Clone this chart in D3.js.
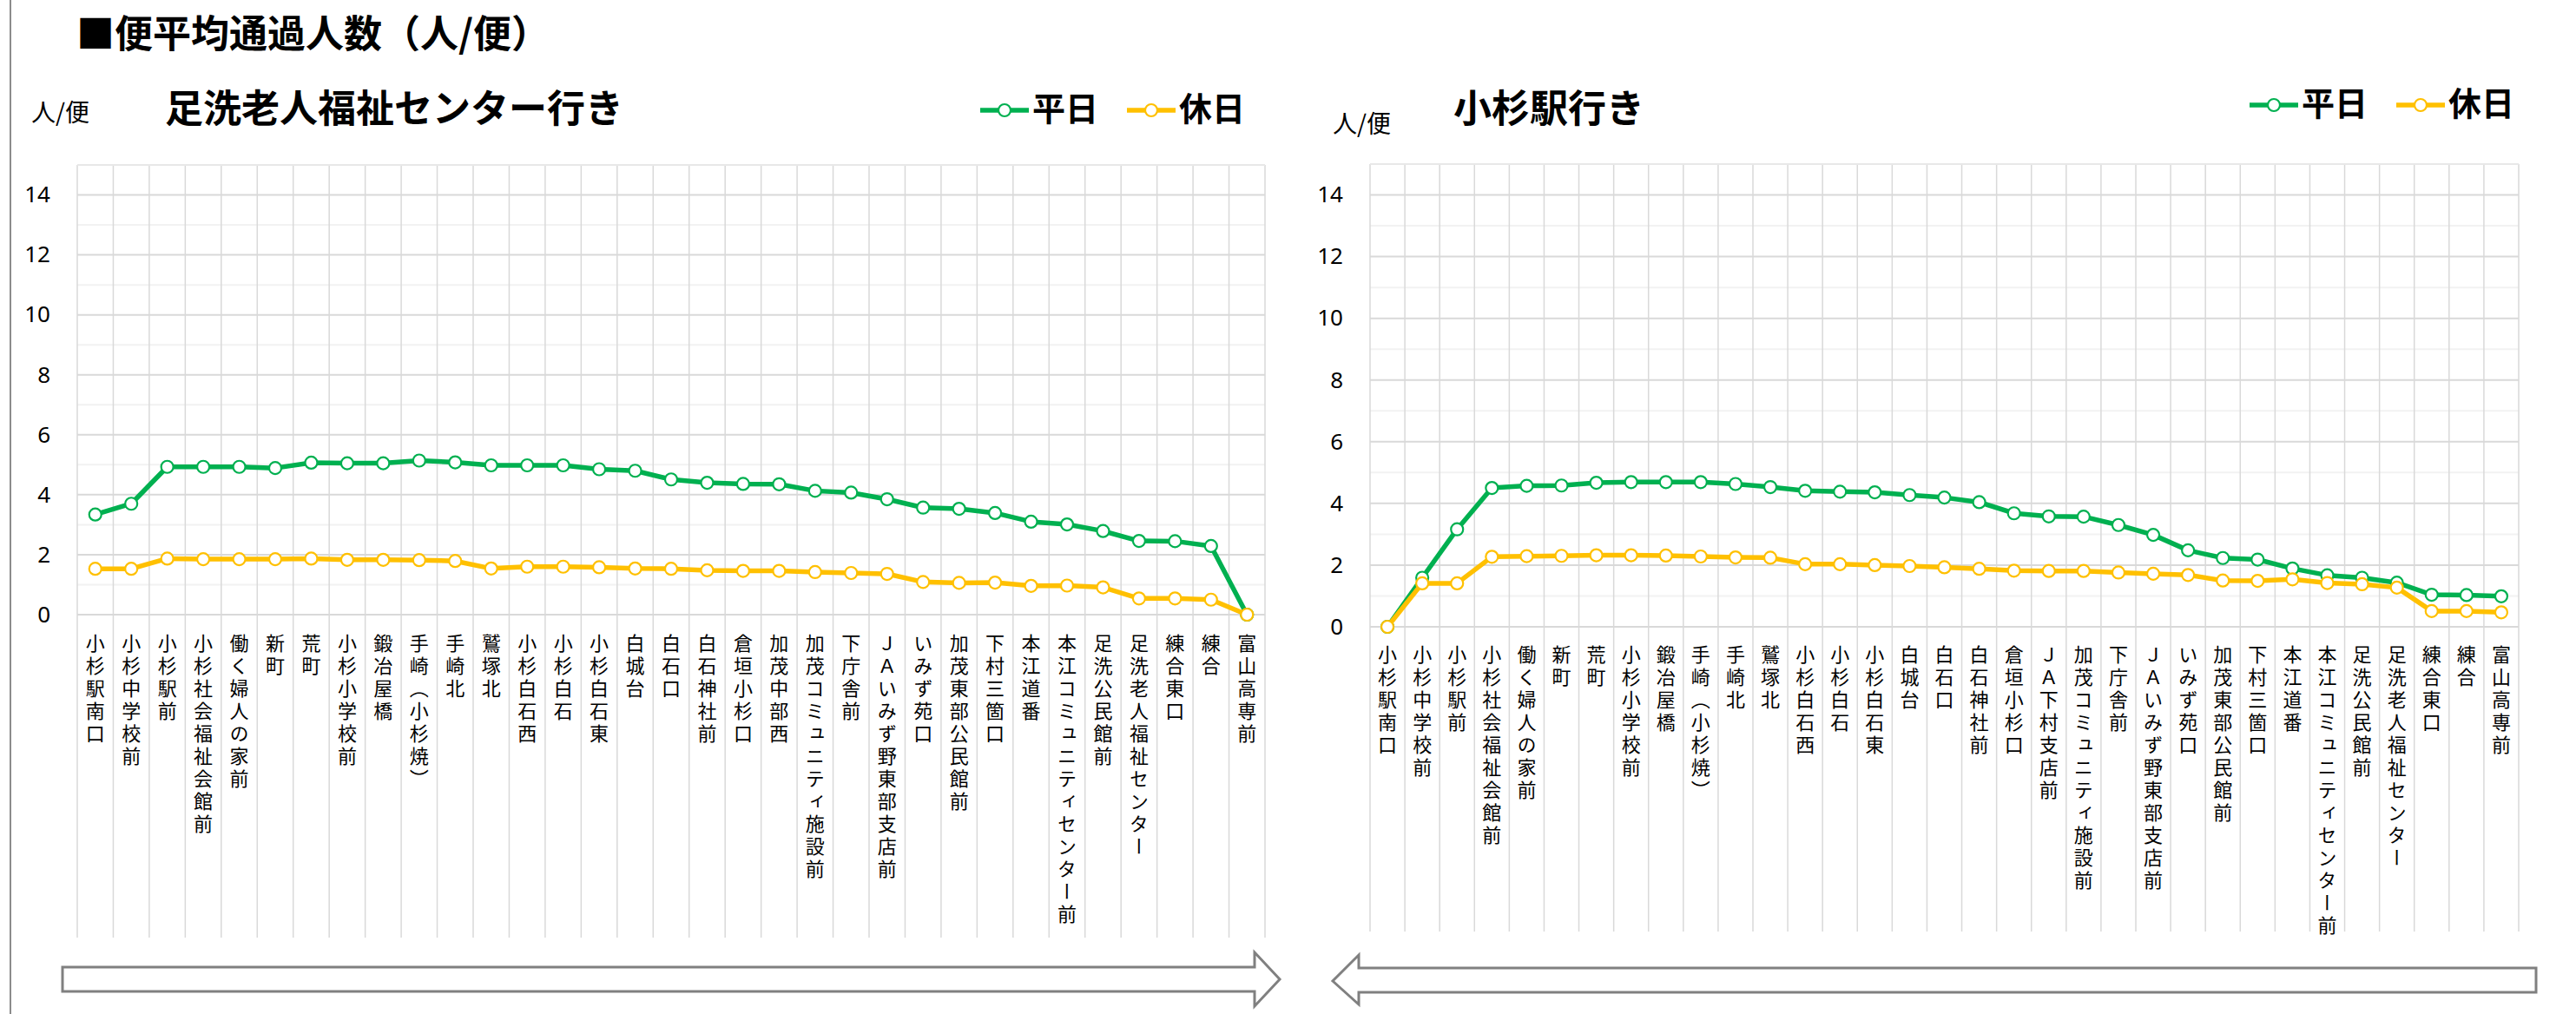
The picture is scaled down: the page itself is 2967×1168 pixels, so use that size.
<!DOCTYPE html>
<html>
<head>
<meta charset="utf-8">
<script src="https://cdn.jsdelivr.net/npm/d3@7"></script>
<style>
  body { margin: 0; background: #fff; }
  svg text { font-family: "Noto Sans CJK JP", "Noto Sans", sans-serif; fill: #000; }
</style>
</head>
<body>
<div id="chart"></div>
<script>
// 便平均通過人数(人/便)
const stopsToCenter = ["小杉駅南口", "小杉中学校前", "小杉駅前", "小杉社会福祉会館前", "働く婦人の家前", "新町", "荒町", "小杉小学校前", "鍛冶屋橋", "手崎（小杉焼）", "手崎北", "鷲塚北", "小杉白石西", "小杉白石", "小杉白石東", "白城台", "白石口", "白石神社前", "倉垣小杉口", "加茂中部西", "加茂コミュニティ施設前", "下庁舎前", "ＪＡいみず野東部支店前", "いみず苑口", "加茂東部公民館前", "下村三箇口", "本江道番", "本江コミュニティセンター前", "足洗公民館前", "足洗老人福祉センター", "練合東口", "練合", "富山高専前"];
const weekdayToCenter = [3.34, 3.70, 4.93, 4.93, 4.93, 4.89, 5.07, 5.05, 5.05, 5.14, 5.08, 4.98, 4.98, 4.98, 4.85, 4.80, 4.51, 4.40, 4.36, 4.35, 4.13, 4.07, 3.85, 3.57, 3.53, 3.39, 3.10, 3.01, 2.79, 2.46, 2.45, 2.29, 0];
const holidayToCenter = [1.53, 1.53, 1.87, 1.85, 1.85, 1.85, 1.87, 1.83, 1.83, 1.82, 1.79, 1.54, 1.60, 1.60, 1.58, 1.54, 1.53, 1.48, 1.46, 1.46, 1.42, 1.39, 1.36, 1.09, 1.06, 1.07, 0.96, 0.97, 0.91, 0.54, 0.54, 0.50, 0];

const stopsToStation = ["小杉駅南口", "小杉中学校前", "小杉駅前", "小杉社会福祉会館前", "働く婦人の家前", "新町", "荒町", "小杉小学校前", "鍛冶屋橋", "手崎（小杉焼）", "手崎北", "鷲塚北", "小杉白石西", "小杉白石", "小杉白石東", "白城台", "白石口", "白石神社前", "倉垣小杉口", "ＪＡ下村支店前", "加茂コミュニティ施設前", "下庁舎前", "ＪＡいみず野東部支店前", "いみず苑口", "加茂東部公民館前", "下村三箇口", "本江道番", "本江コミュニティセンター前", "足洗公民館前", "足洗老人福祉センター", "練合東口", "練合", "富山高専前"];
const weekdayToStation = [0, 1.59, 3.16, 4.50, 4.57, 4.58, 4.67, 4.69, 4.69, 4.69, 4.63, 4.53, 4.41, 4.38, 4.36, 4.27, 4.19, 4.04, 3.68, 3.58, 3.57, 3.30, 2.98, 2.48, 2.23, 2.18, 1.89, 1.67, 1.59, 1.43, 1.04, 1.03, 0.99];
const holidayToStation = [0, 1.41, 1.41, 2.27, 2.29, 2.30, 2.32, 2.32, 2.31, 2.28, 2.25, 2.24, 2.03, 2.03, 2.00, 1.97, 1.93, 1.88, 1.82, 1.81, 1.81, 1.76, 1.72, 1.68, 1.50, 1.49, 1.54, 1.42, 1.38, 1.27, 0.51, 0.51, 0.47];

const yTicks = [0, 2, 4, 6, 8, 10, 12, 14];
const seriesNames = ["平日", "休日"];
const seriesColors = ["#00b050", "#ffc000"];

const svg = d3.select("#chart").append("svg")
    .attr("width", 2967)
    .attr("height", 1168);

// 左端の枠線
svg.append("line")
   .attr("x1", 12).attr("x2", 12)
   .attr("y1", 0).attr("y2", 1168)
   .attr("stroke", "#8c8c8c").attr("stroke-width", 2);

svg.append("text")
   .attr("x", 88).attr("y", 55)
   .style("font-size", "44px")
   .style("font-weight", "bold")
   .text("■便平均通過人数（人/便）");

function drawPanel(opt) {
    const g = svg.append("g");
    const x = d3.scaleBand().domain(opt.stops).range([opt.left, opt.right]);
    const y = d3.scaleLinear().domain([0, 15]).range([opt.bottom, opt.top]);
    const bw = x.bandwidth();

    // 補助目盛線
    g.selectAll(".minor").data(d3.range(1, 15, 2)).enter()
     .append("line")
     .attr("x1", opt.left).attr("x2", opt.right)
     .attr("y1", d => y(d)).attr("y2", d => y(d))
     .attr("stroke", "#f2f2f2").attr("stroke-width", 2);

    // 縦の区切り線
    g.selectAll(".vgrid").data(d3.range(opt.stops.length + 1)).enter()
     .append("line")
     .attr("x1", i => opt.left + i * bw).attr("x2", i => opt.left + i * bw)
     .attr("y1", opt.top).attr("y2", opt.gridBottom)
     .attr("stroke", "#d9d9d9").attr("stroke-width", 1.5);

    // 主目盛線
    g.selectAll(".major").data(yTicks.concat([15])).enter()
     .append("line")
     .attr("x1", opt.left).attr("x2", opt.right)
     .attr("y1", d => y(d)).attr("y2", d => y(d))
     .attr("stroke", d => d === 15 ? "#e8e8e8" : "#d9d9d9").attr("stroke-width", 2);

    // Y軸ラベル
    const yAxis = g.append("g")
        .attr("transform", `translate(${opt.left},0)`)
        .call(d3.axisLeft(y).tickValues(yTicks).tickSize(0).tickPadding(31));
    yAxis.select(".domain").remove();
    yAxis.selectAll("text")
         .style("font-family", "'Noto Sans', sans-serif")
         .style("font-size", "26px");

    // X軸ラベル (縦書き)
    g.selectAll(".xlab").data(opt.stops).enter()
     .append("text")
     .attr("x", d => x(d) + bw / 2)
     .attr("y", opt.labelTop)
     .style("writing-mode", "vertical-rl")
     .style("font-size", "22px")
     .style("letter-spacing", "4px")
     .text(d => d);

    // 折れ線
    const series = [opt.weekday, opt.holiday];
    series.forEach((vals, si) => {
        const pts = vals.map((v, i) => ({ name: opt.stops[i], v }));
        g.append("path")
         .datum(pts)
         .attr("fill", "none")
         .attr("stroke", seriesColors[si])
         .attr("stroke-width", 5.5)
         .attr("stroke-linejoin", "round")
         .attr("d", d3.line().x(d => x(d.name) + bw / 2).y(d => y(d.v)));
        g.selectAll(".pt" + si).data(pts).enter()
         .append("circle")
         .attr("cx", d => x(d.name) + bw / 2)
         .attr("cy", d => y(d.v))
         .attr("r", 7)
         .attr("fill", "#fff")
         .attr("stroke", seriesColors[si])
         .attr("stroke-width", 2.2);
    });

    // 単位・タイトル
    g.append("text")
     .attr("x", opt.unitX).attr("y", opt.unitY)
     .style("font-size", "28px")
     .text("人/便");
    g.append("text")
     .attr("x", opt.titleX).attr("y", opt.titleY)
     .style("font-size", "44px")
     .style("font-weight", "bold")
     .text(opt.title);

    // 凡例
    seriesNames.forEach((name, si) => {
        const lx = opt.legendX[si];
        g.append("line")
         .attr("x1", lx).attr("x2", lx + 56)
         .attr("y1", opt.legendY - 12).attr("y2", opt.legendY - 12)
         .attr("stroke", seriesColors[si]).attr("stroke-width", 5.5);
        g.append("circle")
         .attr("cx", lx + 28).attr("cy", opt.legendY - 12)
         .attr("r", 7).attr("fill", "#fff")
         .attr("stroke", seriesColors[si]).attr("stroke-width", 2.2);
        g.append("text")
         .attr("x", lx + 60).attr("y", opt.legendY)
         .style("font-size", "38px")
         .style("font-weight", "bold")
         .text(name);
    });

    // 方向矢印
    const a = opt.arrow;
    const pts = a.dir > 0
        ? [[a.x0, a.bodyTop], [a.headX, a.bodyTop], [a.headX, a.headTop], [a.tip, a.mid],
           [a.headX, a.headBottom], [a.headX, a.bodyBottom], [a.x0, a.bodyBottom]]
        : [[a.x0, a.bodyTop], [a.headX, a.bodyTop], [a.headX, a.headTop], [a.tip, a.mid],
           [a.headX, a.headBottom], [a.headX, a.bodyBottom], [a.x0, a.bodyBottom]];
    g.append("path")
     .attr("d", d3.line()(pts) + "Z")
     .attr("fill", "#fff")
     .attr("stroke", "#808080")
     .attr("stroke-width", 3);
}

drawPanel({
    stops: stopsToCenter, weekday: weekdayToCenter, holiday: holidayToCenter,
    left: 89, right: 1457, top: 190, bottom: 708, gridBottom: 1080, labelTop: 730,
    title: "足洗老人福祉センター行き", titleX: 190, titleY: 141,
    unitX: 36, unitY: 140,
    legendX: [1129, 1298], legendY: 139,
    arrow: { dir: 1, x0: 72, headX: 1445, tip: 1474, bodyTop: 1114, bodyBottom: 1142,
             headTop: 1097, headBottom: 1159, mid: 1128 }
});

drawPanel({
    stops: stopsToStation, weekday: weekdayToStation, holiday: holidayToStation,
    left: 1578, right: 2901, top: 189, bottom: 722, gridBottom: 1073, labelTop: 743,
    title: "小杉駅行き", titleX: 1674, titleY: 141,
    unitX: 1535, unitY: 153,
    legendX: [2591, 2760], legendY: 133,
    arrow: { dir: -1, x0: 2921, headX: 1565, tip: 1535, bodyTop: 1115, bodyBottom: 1143,
             headTop: 1100, headBottom: 1157, mid: 1130 }
});
</script>
</body>
</html>
